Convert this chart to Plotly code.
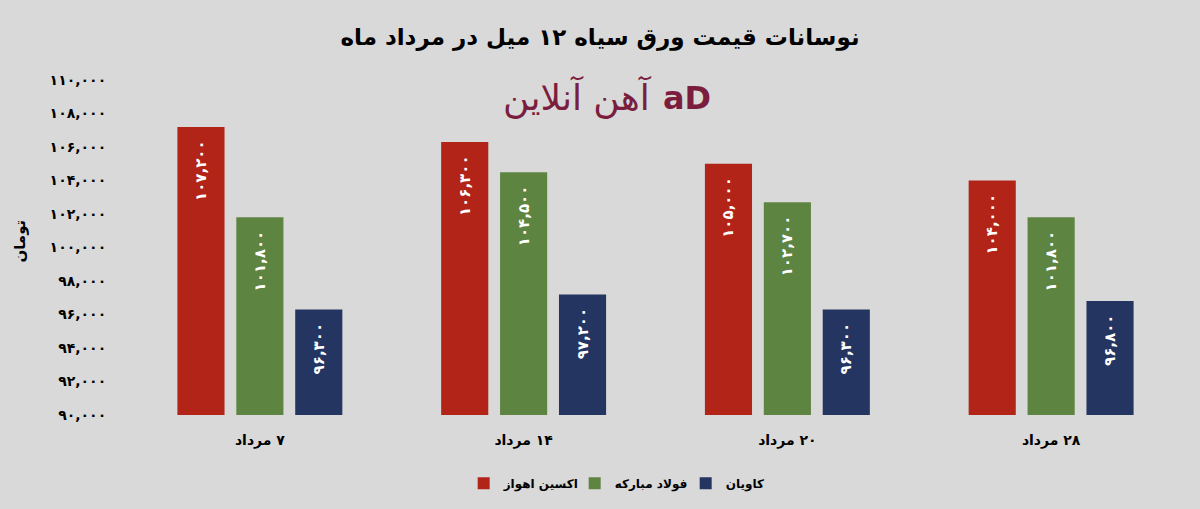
import plotly.graph_objects as go

categories = ["۷ مرداد", "۱۴ مرداد", "۲۰ مرداد", "۲۸ مرداد"]
series_names = ["اکسین اهواز", "فولاد مبارکه", "کاویان"]
oxin = [107200, 106300, 105000, 104000]
foolad = [101800, 104500, 102700, 101800]
kavian = [96300, 97200, 96300, 96800]
tick_values = [90000, 92000, 94000, 96000, 98000, 100000, 102000, 104000, 106000, 108000, 110000]
colors = ["#b22418", "#5e8441", "#243561"]

BASE = 90000
FA = str.maketrans("0123456789", "۰۱۲۳۴۵۶۷۸۹")
RLM = "\u200f"


def fa(n):
    return f"{n:,}".translate(FA)


font = "DejaVu Sans"
fig = go.Figure()
for name, vals, col in zip(series_names, [oxin, foolad, kavian], colors):
    fig.add_trace(go.Bar(
        x=categories,
        y=[v - BASE for v in vals],
        base=BASE,
        name=name,
        marker=dict(color=col, line=dict(width=0)),
        text=[fa(v) + "\u00a0\u00a0" for v in vals],
        textposition="inside",
        insidetextanchor="end",
        textangle=-90,
        textfont=dict(color="white", size=15, family=font, weight="bold"),
        cliponaxis=False,
    ))

fig.update_layout(
    width=1200, height=509,
    paper_bgcolor="#d9d9d9", plot_bgcolor="#d9d9d9",
    margin=dict(l=128, r=17, t=80, b=93),
    barmode="group", bargap=0.33, bargroupgap=0.2,
    font=dict(family=font, color="#000000", size=13),
    title=dict(text="<b>" + RLM + "نوسانات قیمت ورق سیاه ۱۲ میل در مرداد ماه</b>",
               x=0.5, xanchor="center", y=0.927, yanchor="middle",
               font=dict(size=23, family=font, color="#000000")),
    showlegend=True,
    legend=dict(orientation="h", x=0.476, xanchor="center", y=-0.2, yanchor="middle",
                itemwidth=30, entrywidth=66, entrywidthmode="pixels",
                font=dict(size=12, family=font, weight="bold"), bgcolor="rgba(0,0,0,0)"),
)
fig.update_xaxes(showgrid=False, showline=False, zeroline=False, ticks="outside",
                 ticklen=12, tickcolor="rgba(0,0,0,0)",
                 tickvals=categories,
                 ticktext=[RLM + c for c in categories],
                 tickfont=dict(size=14, family=font, weight="bold"))
fig.update_yaxes(range=[90000, 110000], tickvals=tick_values,
                 ticktext=[fa(v) for v in tick_values],
                 showgrid=False, showline=False, zeroline=False,
                 ticks="outside", ticklen=18, tickcolor="rgba(0,0,0,0)",
                 tickfont=dict(size=14, family=font, weight="bold"))

fig.add_annotation(text="<b>تومان</b>", xref="paper", yref="paper",
                   x=-0.113, y=0.52, textangle=-90, showarrow=False,
                   font=dict(size=15, family=font))
fig.add_annotation(text="آهن آنلاین", xref="paper", yref="paper",
                   x=0.426, y=0.95, showarrow=False, xanchor="center", yanchor="middle",
                   font=dict(size=36, family=font, color="#7b1e3d"))
fig.add_annotation(text="<b>aD</b>", xref="paper", yref="paper",
                   x=0.53, y=0.945, showarrow=False, xanchor="center", yanchor="middle",
                   font=dict(size=32, family=font, color="#7b1e3d"))

fig.write_html("out.html", config={"displayModeBar": False},
               post_script="document.body.style.margin='0';")
